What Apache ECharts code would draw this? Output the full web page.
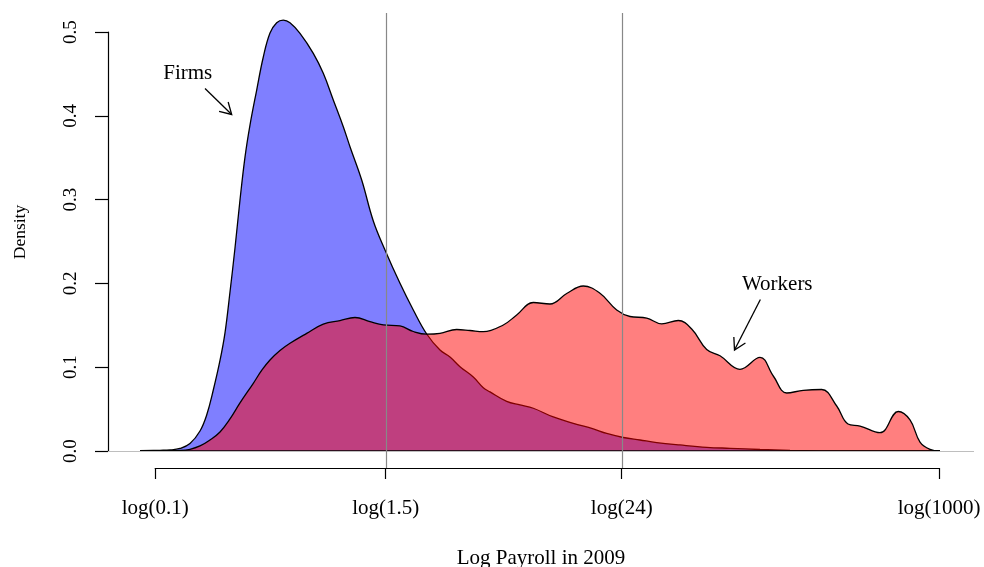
<!DOCTYPE html>
<html>
<head>
<meta charset="utf-8">
<script src="https://cdn.jsdelivr.net/npm/echarts@6/dist/echarts.min.js"></script>
<style>
  html, body { margin: 0; padding: 0; background: #fff; }
  #chart { width: 984px; height: 567px; }
</style>
</head>
<body>
<div id="chart"></div>
<script>
// Kernel density estimates of log payroll in 2009: firms vs. workers.
const firmsLogPay = [
  -2.4812, -2.2462, -2.1287, -2.0113, -1.8938, -1.7763, -1.6976, -1.6200, -1.5413, -1.4826,
  -1.4239, -1.3651, -1.3064, -1.2476, -1.1889, -1.1102, -1.0326, -0.9539, -0.8752, -0.7977,
  -0.7190, -0.6015, -0.4452, -0.3278, -0.2103, -0.0928, -0.0141, 0.1234, 0.2597, 0.3971,
  0.5733, 0.7296, 0.8870, 1.0432, 1.1607, 1.2782, 1.4344, 1.5519, 1.6306, 1.8268,
  1.9831, 2.1393, 2.3743, 2.6092, 2.8442, 3.0016, 3.1966, 3.3928, 3.5890, 3.8627,
  4.1764, 4.4501, 4.8026, 5.1550, 5.5075, 5.9774, 6.4474, 6.9173
];
const firmsDensity = [
  0.0003, 0.0008, 0.0012, 0.0030, 0.0089, 0.0239, 0.0430, 0.0728, 0.1080, 0.1410,
  0.1897, 0.2422, 0.2995, 0.3508, 0.3890, 0.4308, 0.4702, 0.4988, 0.5111, 0.5143,
  0.5111, 0.4984, 0.4746, 0.4507, 0.4189, 0.3870, 0.3631, 0.3234, 0.2745, 0.2399,
  0.2001, 0.1683, 0.1396, 0.1205, 0.1122, 0.1006, 0.0883, 0.0755, 0.0705, 0.0592,
  0.0549, 0.0510, 0.0406, 0.0331, 0.0263, 0.0209, 0.0161, 0.0131, 0.0101, 0.0072,
  0.0044, 0.0032, 0.0018, 0.0008, 0.0002, 0, 0, 0
];

const workersLogPay = [
  -2.4812, -2.2462, -2.0113, -1.8938, -1.7763, -1.6588, -1.5413, -1.4239, -1.3064, -1.1501,
  -1.0479, -0.9539, -0.8365, -0.7190, -0.5228, -0.3278, -0.1316, 0.0446, 0.2209, 0.3771,
  0.5733, 0.7296, 0.8870, 1.0432, 1.2394, 1.3957, 1.5519, 1.7869, 1.9443, 2.1393,
  2.3355, 2.5317, 2.7267, 2.9229, 3.1191, 3.2754, 3.4716, 3.6478, 3.8428, 4.0002,
  4.1764, 4.3327, 4.5676, 4.8026, 4.9588, 5.1162, 5.3113, 5.5274, 5.7037, 5.8364,
  5.9774, 6.2123, 6.4273, 6.5648, 6.6823, 6.7997, 6.9173
];
const workersDensity = [
  0, 0.0001, 0.0006, 0.0020, 0.0060, 0.0131, 0.0227, 0.0382, 0.0573, 0.0808,
  0.0967, 0.1086, 0.1199, 0.1285, 0.1404, 0.1515, 0.1557, 0.1593, 0.1543, 0.1504,
  0.1492, 0.1426, 0.1394, 0.1404, 0.1450, 0.1438, 0.1424, 0.1504, 0.1623, 0.1772,
  0.1754, 0.1879, 0.1969, 0.1882, 0.1683, 0.1605, 0.1587, 0.1518, 0.1557, 0.1456,
  0.1211, 0.1136, 0.0975, 0.1118, 0.0895, 0.0692, 0.0724, 0.0734, 0.0537, 0.0322,
  0.0298, 0.0218, 0.0471, 0.0370, 0.0107, 0.0020, 0
];

// Payroll tick marks on the log scale, and the two size cut-offs.
const axisTickValues = [Math.log(0.1), Math.log(1.5), Math.log(24), Math.log(1000)];
const axisTickLabels = ['log(0.1)', 'log(1.5)', 'log(24)', 'log(1000)'];
const cutoffs = [Math.log(1.5), Math.log(24)];

// Annotated arrows: label centre, arrow tail and arrow tip (data units).
const notes = [
  { label: 'Firms',   textAt: [-1.920, 0.4510], from: [-1.7175, 0.4326], to: [-1.4039, 0.4016] },
  { label: 'Workers', textAt: [5.005, 0.1985],  from: [4.807, 0.1808],   to: [4.503, 0.1205] }
];

const SERIF = '"Liberation Serif", "Times New Roman", Times, serif';

const zip = (xs, ys) => xs.map((x, i) => [x, ys[i]]);
const labelFor = v => {
  const i = axisTickValues.findIndex(t => Math.abs(t - v) < 1e-6);
  return i >= 0 ? axisTickLabels[i] : '';
};

const chart = echarts.init(document.getElementById('chart'), null, { renderer: 'canvas' });

chart.setOption({
  animation: false,
  backgroundColor: '#ffffff',
  grid: [
    // plotting region
    { left: 108, right: 10, top: 13, bottom: 99 },
    // density axis (drawn from 0 to 0.5 only)
    { left: 108, right: 10, top: 32, bottom: 116 },
    // payroll axis (drawn from first to last tick only)
    { left: 155.2, right: 44.8, top: 440, bottom: 99 }
  ],
  xAxis: [
    { gridIndex: 0, type: 'value', min: -2.857, max: 7.3166, show: false },
    { gridIndex: 1, type: 'value', min: 0, max: 1, show: false },
    {
      gridIndex: 2, type: 'value',
      min: axisTickValues[0], max: axisTickValues[axisTickValues.length - 1],
      axisLine: { show: true, onZero: false, lineStyle: { color: '#000', width: 1.2 } },
      axisTick: { show: true, length: 11, customValues: axisTickValues, lineStyle: { color: '#000', width: 1.2 } },
      axisLabel: {
        show: true, customValues: axisTickValues, formatter: labelFor,
        margin: 30, fontSize: 21, fontFamily: SERIF, color: '#000'
      },
      splitLine: { show: false }
    }
  ],
  yAxis: [
    { gridIndex: 0, type: 'value', min: -0.0203, max: 0.5227, show: false },
    {
      gridIndex: 1, type: 'value', min: 0, max: 0.5, interval: 0.1,
      axisLine: { show: true, onZero: false, lineStyle: { color: '#000', width: 1.2 } },
      axisTick: { show: true, length: 13, lineStyle: { color: '#000', width: 1.2 } },
      axisLabel: {
        rotate: 90, margin: 27, fontSize: 19, fontFamily: SERIF, color: '#000',
        formatter: v => v.toFixed(1)
      },
      splitLine: { show: false }
    },
    { gridIndex: 2, type: 'value', min: 0, max: 1, show: false }
  ],
  graphic: [
    {
      type: 'text', x: 541, y: 558,
      style: { text: 'Log Payroll in 2009', fontSize: 21, fontFamily: SERIF, fill: '#000', align: 'center', verticalAlign: 'middle' }
    },
    {
      type: 'text', x: 20, y: 232, rotation: Math.PI / 2,
      style: { text: 'Density', fontSize: 17.5, fontFamily: SERIF, fill: '#000', align: 'center', verticalAlign: 'middle' }
    }
  ],
  series: [
    {
      name: 'zero', type: 'line', data: [], xAxisIndex: 0, yAxisIndex: 0, z: 1, silent: true,
      markLine: {
        silent: true, symbol: ['none', 'none'], label: { show: false },
        lineStyle: { color: '#bebebe', width: 1, type: 'solid' },
        data: [{ yAxis: 0 }]
      }
    },
    {
      name: 'Firms', type: 'line', data: zip(firmsLogPay, firmsDensity),
      xAxisIndex: 0, yAxisIndex: 0, z: 2, showSymbol: false, symbol: 'none', smooth: 0.4,
      lineStyle: { color: '#000', width: 1.3 },
      areaStyle: { color: 'rgba(0,0,255,0.5)', opacity: 1 }
    },
    {
      name: 'Workers', type: 'line', data: zip(workersLogPay, workersDensity),
      xAxisIndex: 0, yAxisIndex: 0, z: 3, showSymbol: false, symbol: 'none', smooth: 0.4,
      lineStyle: { color: '#000', width: 1.3 },
      areaStyle: { color: 'rgba(255,0,0,0.5)', opacity: 1 }
    },
    {
      name: 'base', type: 'line', xAxisIndex: 0, yAxisIndex: 0, z: 4, silent: true,
      data: [[firmsLogPay[0], 0], [firmsLogPay[firmsLogPay.length - 1], 0]],
      showSymbol: false, symbol: 'none', lineStyle: { color: '#000', width: 1.5 }
    },
    {
      name: 'cutoffs', type: 'line', data: [], xAxisIndex: 0, yAxisIndex: 0, z: 5, silent: true,
      markLine: {
        silent: true, symbol: ['none', 'none'], label: { show: false },
        lineStyle: { color: '#888888', width: 1.2, type: 'solid' },
        data: cutoffs.map(c => ({ xAxis: c }))
      }
    },
    {
      name: 'notes', type: 'custom', xAxisIndex: 0, yAxisIndex: 0, z: 6, silent: true,
      data: notes.map(n => n.textAt),
      renderItem: (params, api) => {
        const n = notes[params.dataIndex];
        const t = api.coord(n.textAt);
        const a = api.coord(n.from);
        const b = api.coord(n.to);
        const ang = Math.atan2(b[1] - a[1], b[0] - a[0]);
        const len = 13, spread = Math.PI / 6;
        const h1 = [b[0] - len * Math.cos(ang - spread), b[1] - len * Math.sin(ang - spread)];
        const h2 = [b[0] - len * Math.cos(ang + spread), b[1] - len * Math.sin(ang + spread)];
        return {
          type: 'group',
          children: [
            {
              type: 'text', x: t[0], y: t[1],
              style: { text: n.label, fontSize: 21, fontFamily: SERIF, fill: '#000', align: 'center', verticalAlign: 'middle' }
            },
            {
              type: 'line', shape: { x1: a[0], y1: a[1], x2: b[0], y2: b[1] },
              style: { stroke: '#000', lineWidth: 1.3 }
            },
            {
              type: 'polyline', shape: { points: [h1, b, h2] },
              style: { stroke: '#000', fill: null, lineWidth: 1.3 }
            }
          ]
        };
      }
    }
  ]
});
</script>
</body>
</html>
